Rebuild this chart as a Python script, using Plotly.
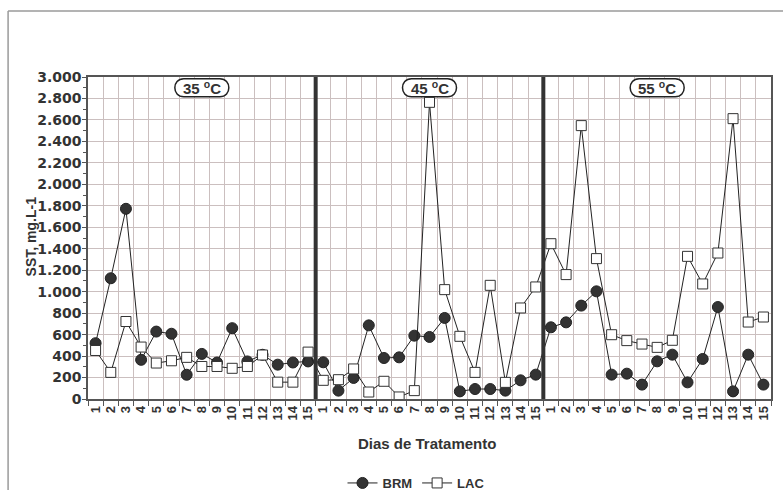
import plotly.graph_objects as go

days = [str(d) for d in range(1, 16)]
temps = ["35 ºC", "45 ºC", "55 ºC"]
tick_labels = days * 3

brm_35 = [520, 1125, 1772, 365, 628, 608, 226, 420, 340, 660, 350, 412, 320, 340, 350]
lac_35 = [452, 248, 722, 484, 335, 356, 388, 303, 303, 286, 303, 410, 157, 157, 437]
brm_45 = [342, 78, 196, 686, 382, 388, 590, 578, 755, 71, 93, 93, 78, 174, 227]
lac_45 = [174, 180, 280, 65, 165, 19, 78, 2764, 1019, 584, 248, 1059, 155, 848, 1044]
brm_55 = [668, 714, 870, 1003, 227, 236, 134, 351, 413, 155, 373, 857, 71, 413, 134]
lac_55 = [1447, 1159, 2547, 1308, 599, 544, 512, 481, 547, 1329, 1072, 1360, 2612, 717, 764]

brm = brm_35 + brm_45 + brm_55
lac = lac_35 + lac_45 + lac_55
xs = list(range(len(brm)))

TXT = "#333333"
GRID = "#cbbfbf"
FONT = "Liberation Sans"

fig = go.Figure()
fig.add_trace(go.Scatter(
    x=xs, y=brm, name="BRM", mode="lines+markers",
    line=dict(color="#222222", width=1),
    marker=dict(symbol="circle", size=11, color="#333333", line=dict(color="#222222", width=1)),
))
fig.add_trace(go.Scatter(
    x=xs, y=lac, name="LAC", mode="lines+markers",
    line=dict(color="#222222", width=1),
    marker=dict(symbol="square", size=10, color="white", line=dict(color="#333333", width=1)),
))

# thick separators between temperature blocks
for b in (14.5, 29.5):
    fig.add_shape(type="line", xref="x", yref="paper", x0=b, x1=b, y0=0, y1=1,
                  line=dict(color="#333333", width=4), layer="above")

# pill labels
for i, t in enumerate(temps):
    xc = i * 15 + 7
    fig.add_shape(type="path", xref="x", yref="y", xsizemode="pixel", ysizemode="pixel",
                  xanchor=xc, yanchor=2900,
                  path="M -18,-9 L 18,-9 C 30,-9 30,9 18,9 L -18,9 C -30,9 -30,-9 -18,-9 Z",
                  line=dict(color="#222222", width=1.5), fillcolor="white", layer="above")
    fig.add_annotation(x=xc, y=2900, xref="x", yref="y", showarrow=False,
                       xanchor="center", yanchor="middle",
                       text=t.replace(" º", " <sup>o</sup>"),
                       font=dict(family=FONT, size=15, color=TXT, weight="bold"))

# outer frame
fig.add_shape(type="line", xref="paper", yref="paper", x0=-0.117, x1=1.2, y0=1.205, y1=1.205,
              line=dict(color="#9a9a9a", width=1.5))
fig.add_shape(type="line", xref="paper", yref="paper", x0=-0.117, x1=-0.117, y0=1.205, y1=-0.4,
              line=dict(color="#9a9a9a", width=1.5))

# axis titles
fig.add_annotation(xref="paper", yref="paper", x=(31 - 88) / 683, y=0.505, showarrow=False,
                   xanchor="center", yanchor="middle",
                   text="SST, mg.L-1", textangle=-90,
                   font=dict(family=FONT, size=14, color=TXT, weight="bold"))
fig.add_annotation(xref="paper", yref="paper", x=(427 - 88) / 683, y=(399 - 443) / 322,
                   xanchor="center", yanchor="middle",
                   showarrow=False, text="Dias de Tratamento",
                   font=dict(family=FONT, size=15, color=TXT, weight="bold"))

fig.update_layout(
    width=783, height=490,
    margin=dict(l=88, r=12, t=77, b=91, autoexpand=False),
    paper_bgcolor="white", plot_bgcolor="white",
    separators=",.",
    showlegend=True,
    legend=dict(orientation="h", x=(416 - 88) / 683, xanchor="center",
                y=(399 - 483) / 322, yanchor="middle",
                font=dict(family=FONT, size=13, color=TXT, weight="bold"),
                itemwidth=30, tracegroupgap=0, bgcolor="rgba(0,0,0,0)"),
    font=dict(family=FONT, color=TXT),
)
fig.update_xaxes(
    range=[-0.5, 44.5], tickmode="array", tickvals=xs, ticktext=tick_labels,
    tickangle=-90, ticks="", showgrid=False, zeroline=False, automargin=False,
    tickfont=dict(family=FONT, size=13, color=TXT, weight="bold"),
    showline=True, linecolor="#555555", linewidth=1.5, mirror=True,
    minor=dict(tickmode="array", tickvals=[i - 0.5 for i in range(46)], showgrid=True,
               gridcolor=GRID, gridwidth=1, ticks="outside", ticklen=5, tickcolor="#555555"),
)
fig.update_yaxes(
    range=[0, 3000], tickmode="linear", tick0=0, dtick=200, tickformat=",d",
    showgrid=True, gridcolor=GRID, gridwidth=1, zeroline=False, automargin=False,
    ticks="outside", ticklen=4, tickcolor="#555555", ticklabelstandoff=-2,
    tickfont=dict(family="DejaVu Sans", size=14, color=TXT, weight="bold"),
    showline=True, linecolor="#555555", linewidth=1.5, mirror=True,
    minor=dict(dtick=100, ticks="outside", ticklen=3, tickcolor="#555555", showgrid=False),
)

fig.write_html("out.html", config={"displayModeBar": False},
               post_script="document.body.style.margin='0';")
